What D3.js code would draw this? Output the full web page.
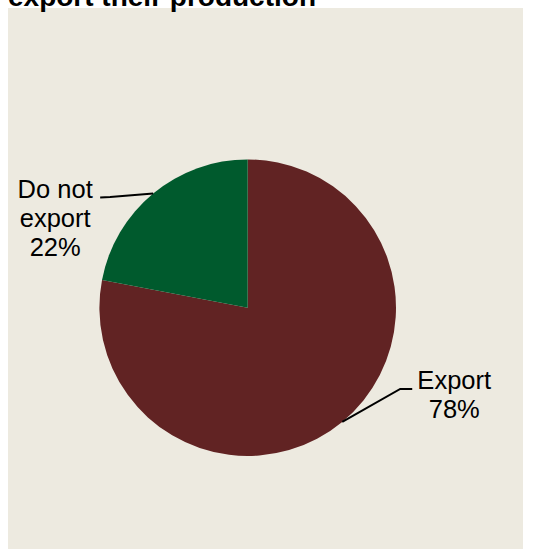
<!DOCTYPE html>
<html>
<head>
<meta charset="utf-8">
<script src="https://cdn.jsdelivr.net/npm/d3@7/dist/d3.min.js"></script>
<style>
  html, body { margin: 0; padding: 0; background: #ffffff; }
  svg { display: block; }
</style>
</head>
<body>
<script>
const categories = ["Export", "Do not export"];
const values = [78, 22];
const labelLines = [["Export", "78%"], ["Do not", "export", "22%"]];
const colors = ["#612323", "#005A2D"];
const title = "export their production";

const W = 537, H = 549;
const svg = d3.select("body").append("svg").attr("width", W).attr("height", H);

svg.append("rect").attr("x", 8).attr("y", 8).attr("width", 515).attr("height", 541)
  .attr("fill", "#EDEAE0");

svg.append("text").attr("x", 8).attr("y", 6)
  .attr("font-family", "Liberation Sans, Arial, sans-serif")
  .attr("font-weight", "bold").attr("font-size", 28).attr("fill", "#000")
  .text(title);

const cx = 247.7, cy = 307.7, r = 148.3;
const g = svg.append("g").attr("transform", `translate(${cx},${cy})`);

const pie = d3.pie().sort(null).value(d => d.v);
const data = pie(categories.map((c, i) => ({ c, v: values[i], i })));
const arc = d3.arc().innerRadius(0).outerRadius(r);

g.selectAll("path.slice").data(data).enter().append("path")
  .attr("class", "slice")
  .attr("d", arc)
  .attr("fill", d => colors[d.data.i]);

// label layout (offsets relative to the slice's edge midpoint)
const layout = [
  { elbow: [58, -33], end: [70, -33], tx: 112, ty: -33, lines: 2 },
  { elbow: [-43, 3.5], end: [-53, 4], tx: -98, ty: 5, lines: 3 }
];

data.forEach((d, k) => {
  const mid = (d.startAngle + d.endAngle) / 2;
  const ex = r * Math.sin(mid), ey = -r * Math.cos(mid);
  const L = layout[k];
  const pts = [[ex, ey], [ex + L.elbow[0], ey + L.elbow[1]], [ex + L.end[0], ey + L.end[1]]];
  g.append("path").attr("d", d3.line()(pts))
    .attr("fill", "none").attr("stroke", "#000").attr("stroke-width", 2);
  const t = g.append("text")
    .attr("font-family", "Liberation Sans, Arial, sans-serif")
    .attr("font-size", 25.5).attr("fill", "#000").attr("text-anchor", "middle");
  labelLines[d.data.i].forEach((line, j) => {
    t.append("tspan").attr("x", ex + L.tx).attr("y", ey + L.ty + j * 29).text(line);
  });
});
</script>
</body>
</html>
